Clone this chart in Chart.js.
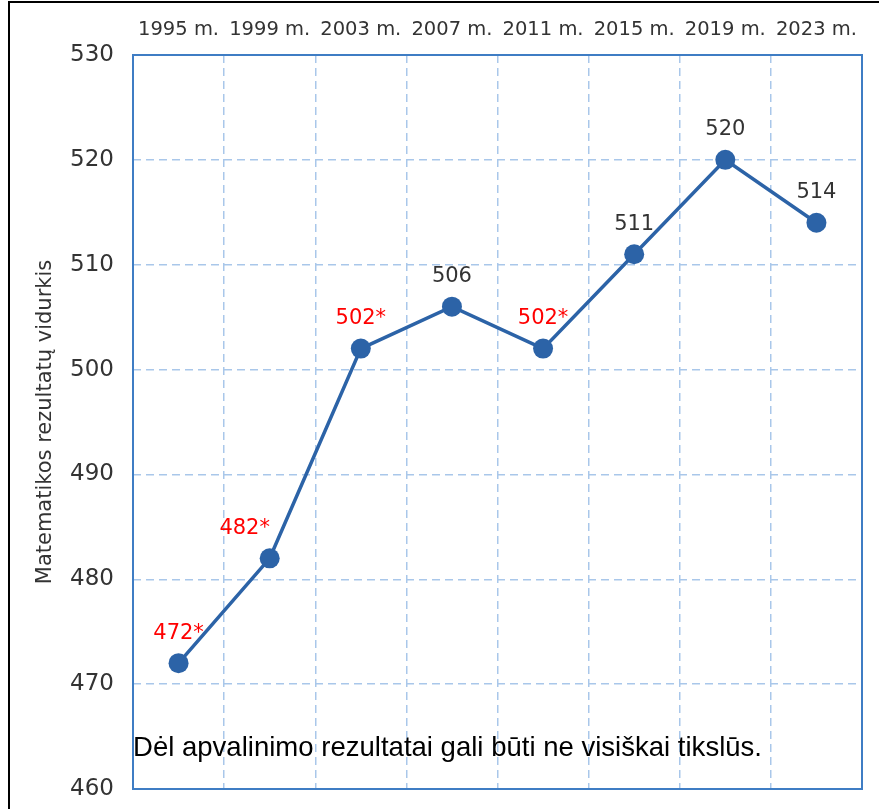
<!DOCTYPE html>
<html>
<head>
<meta charset="utf-8">
<script src="https://cdn.jsdelivr.net/npm/chart.js@4"></script>
<style>
  html, body { margin: 0; padding: 0; background: #fff; }
  #wrap { width: 879px; height: 809px; }
</style>
</head>
<body>
<div id="wrap"><canvas id="myChart" width="879" height="809"></canvas></div>
<script>
const years = ["1995 m.", "1999 m.", "2003 m.", "2007 m.", "2011 m.", "2015 m.", "2019 m.", "2023 m."];
const scores = [472, 482, 502, 506, 502, 511, 520, 514];
const starred = [true, true, true, false, true, false, false, false];
const yTicks = [460, 470, 480, 490, 500, 510, 520, 530];
const yTitle = "Matematikos rezultatų vidurkis";
const note = "Dėl apvalinimo rezultatai gali būti ne visiškai tikslūs.";

const lineBlue = "#2c63a7";
const gridBlue = "#a9c7ea";
const frameBlue = "#3f7dc4";

// data labels above each point, red ones are marked with *
const valueLabels = {
  id: "valueLabels",
  afterDatasetsDraw(chart) {
    const ctx = chart.ctx;
    const meta = chart.getDatasetMeta(0);
    ctx.save();
    ctx.font = "21px 'DejaVu Sans', sans-serif";
    ctx.textAlign = "center";
    ctx.textBaseline = "middle";
    meta.data.forEach((pt, i) => {
      const txt = scores[i] + (starred[i] ? "*" : "");
      ctx.fillStyle = starred[i] ? "#ff0000" : "#333333";
      const dx = i === 1 ? -25 : 0;
      ctx.fillText(txt, pt.x + dx, pt.y - 30);
    });
    ctx.restore();
  }
};

// plot frame, outer image frame and the footnote
const frame = {
  id: "frame",
  afterDraw(chart) {
    const { ctx, chartArea: a } = chart;
    ctx.save();
    ctx.strokeStyle = frameBlue;
    ctx.lineWidth = 2;
    ctx.strokeRect(a.left, a.top, a.right - a.left, a.bottom - a.top);

    ctx.strokeStyle = "#000";
    ctx.lineWidth = 2;
    ctx.beginPath();
    ctx.moveTo(9, chart.height);
    ctx.lineTo(9, 2);
    ctx.lineTo(chart.width, 2);
    ctx.stroke();

    ctx.fillStyle = "#000";
    ctx.font = "28px 'Liberation Sans Narrow', 'Liberation Sans', sans-serif";
    ctx.textBaseline = "middle";
    const w = ctx.measureText(note).width;
    const target = 629;
    ctx.translate(a.left, 748);
    ctx.scale(target / w, 1);
    ctx.fillText(note, 0, 0);
    ctx.restore();
  }
};

new Chart(document.getElementById("myChart"), {
  type: "line",
  data: {
    labels: years,
    datasets: [{
      data: scores,
      borderColor: lineBlue,
      backgroundColor: lineBlue,
      borderWidth: 3.5,
      pointRadius: 10,
      pointHoverRadius: 10,
      pointBackgroundColor: lineBlue,
      pointBorderWidth: 0,
      tension: 0
    }]
  },
  options: {
    responsive: false,
    animation: false,
    layout: { padding: { left: 0, top: 0, right: 17, bottom: 20 } },
    plugins: {
      legend: { display: false },
      tooltip: { enabled: false }
    },
    scales: {
      x: {
        position: "top",
        offset: true,
        grid: {
          offset: true,
          color: gridBlue,
          lineWidth: 1.5,
          drawTicks: false
        },
        border: { display: false, dash: [8, 5] },
        ticks: {
          color: "#333",
          font: { family: "'DejaVu Sans', sans-serif", size: 19.5 },
          padding: 13,
          maxRotation: 0,
          autoSkip: false
        },
        afterFit(scale) { scale.height = 55; }
      },
      y: {
        min: 460,
        max: 530,
        afterBuildTicks(scale) { scale.ticks = yTicks.map(v => ({ value: v })); },
        grid: {
          color: gridBlue,
          lineWidth: 1.5,
          drawTicks: true,
          tickLength: 19,
          tickColor: "transparent"
        },
        border: { display: false, dash: [8, 5] },
        ticks: {
          color: "#333",
          font: { family: "'DejaVu Sans', sans-serif", size: 23 },
          padding: 0
        },
        title: {
          display: true,
          text: yTitle,
          color: "#333",
          font: { family: "'DejaVu Sans', sans-serif", size: 21 },
          padding: { top: 33, bottom: 0 }
        },
        afterFit(scale) { scale.width = 133; }
      }
    }
  },
  plugins: [valueLabels, frame]
});
</script>
</body>
</html>
